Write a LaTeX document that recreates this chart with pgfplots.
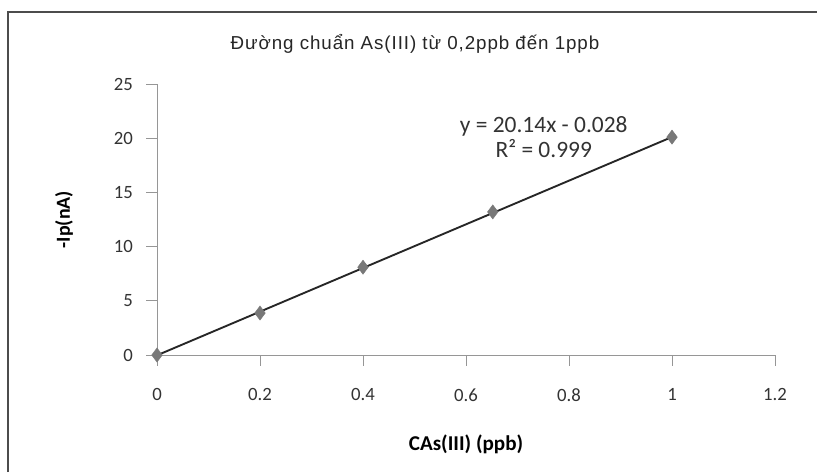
\documentclass[border=0pt]{standalone}
\usepackage{pgfplots}
\pgfplotsset{compat=1.18}
\usepackage{fontspec}
\setmainfont{Carlito}
\newfontfamily\titlefont[LetterSpace=5]{Liberation Sans}
\definecolor{axgray}{RGB}{150,150,150}
\definecolor{mk}{RGB}{120,120,120}
\begin{document}
\begin{tikzpicture}
\useasboundingbox (0,0) rectangle (24.51cm,14.16cm);
\fill[white] (0,0) rectangle (24.51cm,14.16cm);
\draw[line width=1.2pt,black!70] (0.24cm,0) -- (0.24cm,13.8cm) -- (24.51cm,13.8cm);
\node[font=\titlefont\fontsize{16}{18}\selectfont, text=black!85] at (12.45cm,12.84cm) {Đường chuẩn As(III) từ 0,2ppb đến 1ppb};
\begin{axis}[
  at={(4.71cm,3.51cm)}, anchor=origin,
  scale only axis, width=18.54cm, height=8.13cm,
  xmin=0, xmax=1.2, ymin=0, ymax=25,
  axis x line*=bottom, axis y line*=left,
  axis line style={axgray, line width=0.8pt},
  xtick={0,0.2,...,1.2}, ytick={0,5,...,25},
  xticklabels={0,0.2,0.4,0.6,0.8,1,1.2},
  tick style={axgray, line width=0.8pt},
  tick align=outside, major tick length=9pt,
  ticklabel style={font=\fontsize{16}{18}\selectfont, text=black!80},
  xticklabel style={yshift=-16pt},
  yticklabel style={xshift=-8pt},
  /pgf/number format/assume math mode=true,
  xlabel={\textbf{CAs(III) (ppb)}},
  ylabel={\textbf{-Ip(nA)}},
  xlabel style={font=\fontsize{18}{20}\selectfont, yshift=-22pt},
  ylabel style={font=\fontsize{17}{19}\selectfont, yshift=28pt},
  clip=false,
]
\addplot[black!85, line width=1.6pt] coordinates {(0,-0.028) (1,20.112)};
\addplot[only marks, mark=diamond*, mark size=6pt, mark options={fill=mk, draw=mk}] coordinates {
(0,0) (0.2,3.87) (0.4,8.1) (0.652,13.2) (1,20.1)};
\node[font=\fontsize{20}{22}\selectfont, text=black!80, align=center] at (axis cs:0.751,20.1) {y = 20.14x - 0.028\\R² = 0.999};
\end{axis}
\end{tikzpicture}
\end{document}
